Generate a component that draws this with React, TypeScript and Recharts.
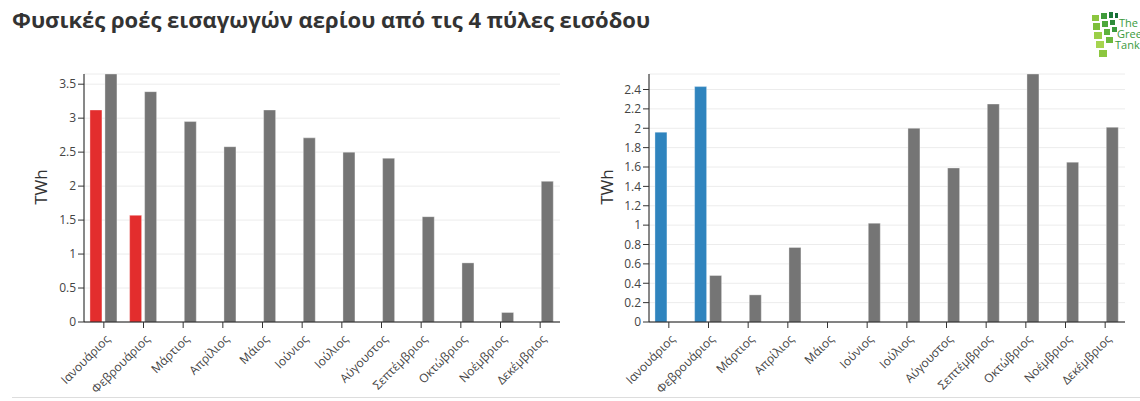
import { BarChart, Bar, XAxis, YAxis, CartesianGrid } from 'recharts'

const months = [
  'Ιανουάριος',
  'Φεβρουάριος',
  'Μάρτιος',
  'Απρίλιος',
  'Μάιος',
  'Ιούνιος',
  'Ιούλιος',
  'Αύγουστος',
  'Σεπτέμβριος',
  'Οκτώβριος',
  'Νοέμβριος',
  'Δεκέμβριος',
]

// left panel: 2023 (red) vs 2022 (grey)
const leftCurrent = [3.12, 1.57, null, null, null, null, null, null, null, null, null, null]
const leftPrevious = [3.65, 3.39, 2.95, 2.58, 3.12, 2.71, 2.5, 2.41, 1.55, 0.87, 0.14, 2.07]
const leftTicks = [0, 0.5, 1, 1.5, 2, 2.5, 3, 3.5]

// right panel: 2023 (blue) vs 2022 (grey)
const rightCurrent = [1.96, 2.43, null, null, null, null, null, null, null, null, null, null]
const rightPrevious = [null, 0.48, 0.28, 0.77, 0, 1.02, 2.0, 1.59, 2.25, 2.56, 1.65, 2.01]
const rightTicks = [0, 0.2, 0.4, 0.6, 0.8, 1, 1.2, 1.4, 1.6, 1.8, 2, 2.2, 2.4]

const leftData = months.map((m, i) => ({ month: m, current: leftCurrent[i], previous: leftPrevious[i] }))
const rightData = months.map((m, i) => ({ month: m, current: rightCurrent[i], previous: rightPrevious[i] }))

const font = '"Open Sans", "Noto Sans", sans-serif'
const tickStyle = { fontSize: 12, fill: '#444', fontFamily: font }

function MonthTick({ x, y, payload }: any) {
  const ax = x + 7
  const ay = y + 10
  return (
    <text
      x={ax}
      y={ay}
      textAnchor="end"
      fontSize={12}
      fill="#444"
      fontFamily={font}
      transform={`rotate(-45 ${ax} ${ay})`}
    >
      {payload.value}
    </text>
  )
}

function UnitLabel({ cx }: { cx: number }) {
  return (
    <text
      x={cx}
      y={187}
      textAnchor="middle"
      dominantBaseline="central"
      fontSize={17}
      fill="#333"
      fontFamily={font}
      transform={`rotate(-90 ${cx} 187)`}
    >
      TWh
    </text>
  )
}

interface PanelProps {
  data: { month: string; current: number | null; previous: number | null }[]
  ticks: number[]
  max: number
  color: string
  left: number
  labelX: number
}

function Panel({ data, ticks, max, color, left, labelX }: PanelProps) {
  return (
    <div style={{ position: 'absolute', left, top: 0 }}>
      <BarChart
        width={570}
        height={401}
        data={data}
        margin={{ top: 74, right: 10, bottom: 0, left: 34 }}
        barCategoryGap="15%"
        barGap={3}
      >
        <CartesianGrid vertical={false} stroke="#ececec" />
        <XAxis
          dataKey="month"
          height={79}
          interval={0}
          tick={<MonthTick />}
          tickLine={{ stroke: '#333' }}
          axisLine={{ stroke: '#111' }}
          tickSize={6}
        />
        <YAxis
          width={50}
          domain={[0, max]}
          ticks={ticks}
          interval={0}
          allowDataOverflow
          tick={tickStyle}
          tickLine={{ stroke: '#333' }}
          axisLine={{ stroke: '#111' }}
          tickSize={6}
          label={{ content: () => <UnitLabel cx={labelX} /> }}
        />
        <Bar dataKey="current" name="2023" fill={color} stroke="rgba(255,255,255,0.35)" isAnimationActive={false} />
        <Bar dataKey="previous" name="2022" fill="#757575" stroke="rgba(255,255,255,0.35)" isAnimationActive={false} />
      </BarChart>
    </div>
  )
}

const tiles = [
  { x: 1092, y: 15, w: 7, h: 6, c: '#8cc63f' },
  { x: 1093, y: 23, w: 7, h: 7, c: '#7dbf3b' },
  { x: 1094, y: 32, w: 8, h: 7, c: '#9bcf47' },
  { x: 1096, y: 41, w: 8, h: 7, c: '#a6d44f' },
  { x: 1099, y: 50, w: 8, h: 7, c: '#8cc63f' },
  { x: 1101, y: 13, w: 6, h: 6, c: '#3f9b3a' },
  { x: 1102, y: 21, w: 6, h: 6, c: '#4ea83c' },
  { x: 1104, y: 29, w: 6, h: 6, c: '#5db33d' },
  { x: 1106, y: 37, w: 7, h: 6, c: '#6cb93e' },
  { x: 1109, y: 12, w: 4, h: 6, c: '#1f7a3a' },
  { x: 1110, y: 20, w: 5, h: 5, c: '#2e8b3a' },
  { x: 1112, y: 27, w: 5, h: 5, c: '#3a9a3c' },
  { x: 1115, y: 13, w: 3, h: 5, c: '#156b35' },
]

export default function App() {
  return (
    <div
      style={{
        position: 'absolute',
        left: 0,
        top: 0,
        width: 1140,
        height: 401,
        background: '#fff',
        overflow: 'hidden',
        fontFamily: font,
      }}
    >
      <div
        style={{
          position: 'absolute',
          left: 12,
          top: 4,
          fontSize: 22,
          fontWeight: 700,
          color: '#333',
          whiteSpace: 'nowrap',
        }}
      >
        Φυσικές ροές εισαγωγών αερίου από τις 4 πύλες εισόδου
      </div>
      <svg width={1140} height={70} style={{ position: 'absolute', left: 0, top: 0 }}>
        {tiles.map((t, i) => (
          <rect key={i} x={t.x} y={t.y} width={t.w} height={t.h} fill={t.c} />
        ))}
        <text fontSize={11} fill="#3a9a3c" fontFamily={font}>
          <tspan x={1119} y={27}>The</tspan>
          <tspan x={1117} y={38}>Green</tspan>
          <tspan x={1115} y={49}>Tank</tspan>
        </text>
      </svg>
      <Panel data={leftData} ticks={leftTicks} max={3.65} color="#e32d2d" left={0} labelX={40} />
      <Panel data={rightData} ticks={rightTicks} max={2.56} color="#2f84be" left={565} labelX={41} />
      <div style={{ position: 'absolute', left: 12, right: 0, top: 397, height: 1, background: '#ddd' }} />
    </div>
  )
}
